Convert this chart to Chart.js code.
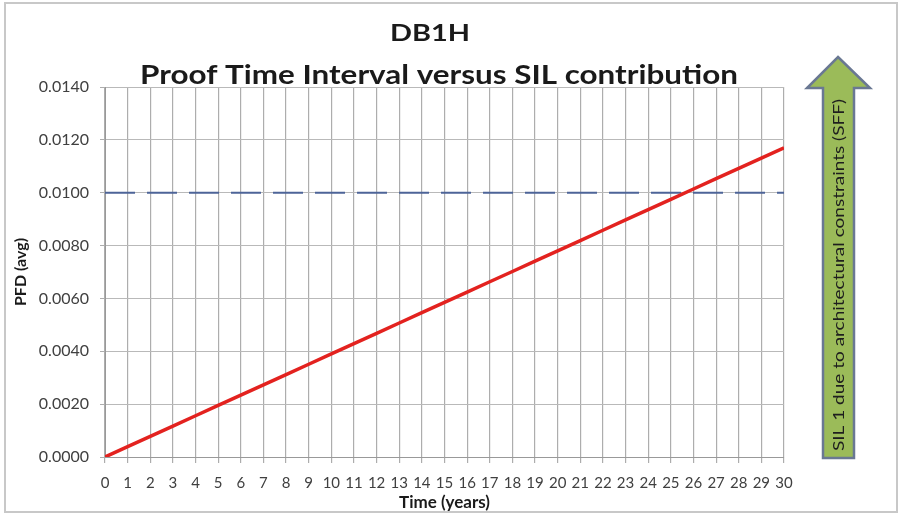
<!DOCTYPE html>
<html>
<head>
<meta charset="utf-8">
<script src="https://cdn.jsdelivr.net/npm/chart.js@4.4.0/dist/chart.umd.min.js"></script>
<style>
  html, body { margin: 0; padding: 0; background: #fff; }
  #wrap { width: 901px; height: 515px; }
</style>
</head>
<body>
<div id="wrap"><canvas id="chartPfd" width="901" height="515"></canvas></div>
<script>
// data
let years = [0, 1, 2, 3, 4, 5, 6, 7, 8, 9, 10, 11, 12, 13, 14, 15, 16, 17, 18, 19, 20,
  21, 22, 23, 24, 25, 26, 27, 28, 29, 30];
let pfdAvg = [0.0000, 0.00039, 0.00078, 0.00117, 0.00156, 0.00195, 0.00234, 0.00273,
  0.00312, 0.00351, 0.00390, 0.00429, 0.00468, 0.00507, 0.00546, 0.00585, 0.00624,
  0.00663, 0.00702, 0.00741, 0.00780, 0.00819, 0.00858, 0.00897, 0.00936, 0.00975,
  0.01014, 0.01053, 0.01092, 0.01131, 0.01170];
let limitYears = [0, 30];
let limitPfd = [0.0100, 0.0100];

let titleTop = "DB1H";
let titleMain = "Proof Time Interval versus SIL contribution";
let arrowText = "SIL 1 due to architectural constraints (SFF)";

let gridGray = "#adadad";
let gridLight = "#b9b9b9";
let tickGray = "#404040";

// build points
function toPoints(xs, ys) {
  return xs.map((x, i) => ({ x: x, y: ys[i] }));
}

// text stretched to a given width
function wideText(ctx, text, cx, cy, width) {
  let w = ctx.measureText(text).width;
  ctx.save();
  ctx.translate(cx, cy);
  ctx.scale(width / w, 1);
  ctx.fillText(text, 0, 0);
  ctx.restore();
}

// titles, frame and arrow
const decor = {
  id: "decor",
  afterDraw(c) {
    const ctx = c.ctx;
    ctx.save();

    // frame
    ctx.strokeStyle = "#c8c8c8";
    ctx.lineWidth = 2;
    ctx.strokeRect(5, 3, 892, 509);

    // titles
    ctx.fillStyle = "#1a1a1a";
    ctx.textAlign = "center";
    ctx.textBaseline = "alphabetic";
    ctx.font = "bold 23px Lato";
    wideText(ctx, titleTop, 430, 41, 80);
    ctx.font = "bold 27px Lato";
    wideText(ctx, titleMain, 439, 84, 598);

    // arrow
    ctx.beginPath();
    ctx.moveTo(838, 57);
    ctx.lineTo(870, 88);
    ctx.lineTo(854, 88);
    ctx.lineTo(854, 458);
    ctx.lineTo(823, 458);
    ctx.lineTo(823, 88);
    ctx.lineTo(807, 88);
    ctx.closePath();
    ctx.fillStyle = "#9bbb59";
    ctx.fill();
    ctx.strokeStyle = "#6a7893";
    ctx.lineWidth = 2.5;
    ctx.stroke();

    ctx.translate(839, 275);
    ctx.rotate(-Math.PI / 2);
    ctx.fillStyle = "#1e1e1e";
    ctx.textBaseline = "middle";
    ctx.font = "16px Lato";
    wideText(ctx, arrowText, 0, 0, 352);

    ctx.restore();
  }
};

let ctx = document.getElementById("chartPfd");

let chart = new Chart(ctx, {
  type: "line",
  data: {
    datasets: [
      {
        label: "PFD (avg)",
        data: toPoints(years, pfdAvg),
        borderColor: "#e3221f",
        borderWidth: 3.5,
        pointRadius: 0,
        tension: 0
      },
      {
        label: "SIL limit",
        data: toPoints(limitYears, limitPfd),
        borderColor: "#4d6498",
        borderWidth: 2,
        borderDash: [30, 12],
        pointRadius: 0
      }
    ]
  },
  options: {
    responsive: false,
    animation: false,
    layout: { padding: { top: 87, left: 0, right: 117, bottom: 0 } },
    plugins: {
      legend: { display: false },
      tooltip: { enabled: false },
      title: { display: false }
    },
    scales: {
      x: {
        type: "linear",
        min: 0,
        max: 30,
        ticks: {
          stepSize: 1,
          color: tickGray,
          padding: 11,
          maxRotation: 0,
          autoSkip: false,
          font: { family: "Lato", size: 15 }
        },
        grid: { color: gridGray, tickColor: gridGray, tickLength: 6, lineWidth: 1.2 },
        border: { color: "#999999" },
        title: {
          display: true,
          text: "Time (years)",
          color: "#1a1a1a",
          font: { family: "Lato", size: 17, weight: "bold" },
          padding: { top: 0, bottom: 2 }
        },
        afterFit(scale) { scale.height = 58; }
      },
      y: {
        min: 0,
        max: 0.014,
        ticks: {
          stepSize: 0.002,
          color: tickGray,
          padding: 11,
          font: { family: "Lato", size: 16 },
          callback: (v) => v.toFixed(4)
        },
        grid: {
          color: gridLight,
          tickColor: gridGray,
          tickLength: 5,
          lineWidth: 1
        },
        border: { color: "#999999" },
        title: {
          display: true,
          text: "PFD (avg)",
          color: "#1a1a1a",
          font: { family: "Lato", size: 16, weight: "bold" },
          padding: { top: 11, bottom: 0 }
        },
        afterFit(scale) { scale.width = 105; }
      }
    }
  },
  plugins: [decor]
});
</script>
</body>
</html>
